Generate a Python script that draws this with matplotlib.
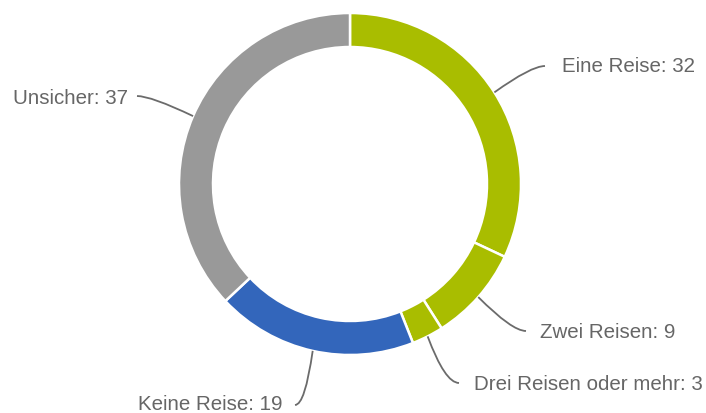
import numpy as np
import matplotlib.pyplot as plt
from matplotlib.path import Path
from matplotlib.patches import PathPatch

plt.rcParams['font.family'] = ['Liberation Sans', 'DejaVu Sans']

labels = ['Eine Reise', 'Zwei Reisen', 'Drei Reisen oder mehr', 'Keine Reise', 'Unsicher']
values = [32, 9, 3, 19, 37]
colors = ['#A9BD00', '#A9BD00', '#A9BD00', '#3366BB', '#999999']

W, H = 706, 413
cx, cy, r = 350, H - 184, 171

# label anchor (end of leader line, text position, alignment), in pixel coords from top-left
label_layout = [
    ((545, 66), (562, 67), 'left'),
    ((526, 331), (540, 332), 'left'),
    ((459, 383), (474, 384), 'left'),
    ((295, 405), (283, 404), 'right'),
    ((137, 96), (128, 98), 'right'),
]

fig = plt.figure(figsize=(W / 100, H / 100), dpi=100)
ax = fig.add_axes([0, 0, 1, 1])
ax.set_xlim(0, W)
ax.set_ylim(0, H)
ax.set_aspect('equal')
ax.axis('off')

wedges, _ = ax.pie(values, colors=colors, startangle=90, counterclock=False,
                   center=(cx, cy), radius=r,
                   wedgeprops=dict(width=34, edgecolor='white', linewidth=1.8))
ax.set_xlim(0, W)
ax.set_ylim(0, H)

total = sum(values)
cum = 0
for lab, val, (end, txt, ha) in zip(labels, values, label_layout):
    mid = np.deg2rad(90 - (cum + val / 2) / total * 360)
    cum += val
    x0, y0 = cx + r * np.cos(mid), cy + r * np.sin(mid)
    ex, ey = end[0], H - end[1]
    # bend into a horizontal end near the label
    ctrl_x = ex - 14 if ha == 'left' else ex + 14
    if lab == 'Keine Reise':
        ctrl_x = ex + 10
    path = Path([(x0, y0), (ctrl_x, ey), (ex, ey)], [Path.MOVETO, Path.CURVE3, Path.CURVE3])
    ax.add_patch(PathPatch(path, fill=False, edgecolor='#6b6b6b', linewidth=1.3))
    ax.text(txt[0], H - txt[1], f'{lab}: {val}', ha=ha, va='center',
            fontsize=14.8, color='#666666')

fig.savefig('out.png', dpi=100)
